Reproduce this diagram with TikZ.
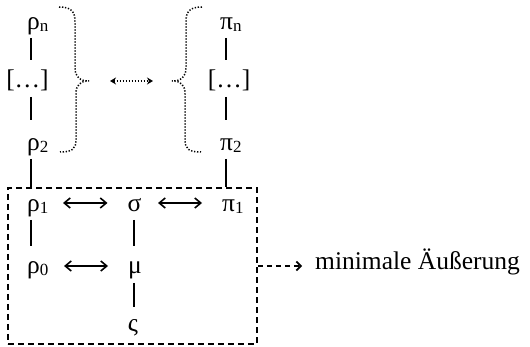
\documentclass[tikz,border=0pt]{standalone}
\usepackage{fontspec}
\setmainfont{Liberation Serif}
\usetikzlibrary{arrows.meta}
\newcommand\lowsub[1]{\raisebox{-1.5pt}{\fontsize{17}{17}\selectfont #1}}
\begin{document}
\begin{tikzpicture}[x=1pt,y=-1pt,
  lbl/.style={inner sep=0pt,font=\fontsize{25.5}{30}\selectfont},
  bar/.style={line width=2pt},
  dbl/.style={line width=1.6pt,{Straight Barb[length=6pt,width=10pt]}-{Straight Barb[length=6pt,width=10pt]}},
  dots/.style={line width=1.5pt,dash pattern=on 1.3pt off 1.7pt},
  dsh/.style={line width=1.9pt,dash pattern=on 6pt off 4pt}]
\useasboundingbox (0,0) rectangle (530,347);
\coordinate (colR) at (30.5,0);
\coordinate (colS) at (133.5,0);
\coordinate (colP) at (225.5,0);

\node[lbl,anchor=base west] (rn) at (27,30) {ρ\lowsub{n}};
\node[lbl,anchor=base] (rd) at (27.5,88) {[…]};
\node[lbl,anchor=base west] (r2) at (27,151) {ρ\lowsub{2}};
\node[lbl,anchor=base west] (r1) at (27,212) {ρ\lowsub{1}};
\node[lbl,anchor=base west] (r0) at (27,274) {ρ\lowsub{0}};
\node[lbl,anchor=base] (s) at (134.5,212) {σ};
\node[lbl,anchor=base] (mu) at (135,274) {μ};
\node[lbl,anchor=base] (fs) at (133,331) {ς};
\node[lbl,anchor=base west] (pn) at (220,30) {π\lowsub{n}};
\node[lbl,anchor=base] (pd) at (229,88) {[…]};
\node[lbl,anchor=base west] (p2) at (220,151) {π\lowsub{2}};
\node[lbl,anchor=base west] (p1) at (222,212) {π\lowsub{1}};
\node[dsh,draw,minimum width=249pt,minimum height=156pt,inner sep=0pt] (box) at (132.5,266) {};
\node[lbl,anchor=base west] (me) at (315,270) {minimale Äußerung};

% vertical bars
\draw[bar] ([yshift=-8pt]rn.base -| colR) -- ([yshift=28pt]rd.base -| colR);
\draw[bar] ([yshift=-9pt]rd.base -| colR) -- ([yshift=31pt]r2.base -| colR);
\draw[bar] ([yshift=-8pt]r2.base -| colR) -- (box.north -| colR);
\draw[bar] ([yshift=-8pt]r1.base -| colR) -- ([yshift=28pt]r0.base -| colR);
\draw[bar] ([yshift=-8pt]s.base -| colS) -- ([yshift=28pt]mu.base -| colS);
\draw[bar] ([yshift=-9pt]mu.base -| colS) -- ([yshift=24pt]fs.base -| colS);
\draw[bar] ([yshift=-8pt]pn.base -| colP) -- ([yshift=28pt]pd.base -| colP);
\draw[bar] ([yshift=-9pt]pd.base -| colP) -- ([yshift=31pt]p2.base -| colP);
\draw[bar] ([yshift=-8pt]p2.base -| colP) -- (box.north -| colP);

% horizontal arrows
\draw[dbl] ([shift={(36pt,9pt)}]r1.base west) -- ([shift={(-27pt,9pt)}]s.base);
\draw[dbl] ([shift={(23.5pt,9pt)}]s.base) -- ([shift={(-20pt,9pt)}]p1.base west);
\draw[dbl] ([shift={(37pt,8pt)}]r0.base west) -- ([shift={(-27pt,8pt)}]mu.base);

% braces
\coordinate (bl) at (89,81);
\coordinate (br) at (172,81);
\draw[dots] (59,7) .. controls (72,7) and (75,12) .. (75,22) -- (75,68)
  .. controls (75,77) and (80,81) .. (bl)
  .. controls (80,81) and (76,85) .. (76,94) -- (76,140)
  .. controls (76,149) and (72,152) .. (60,152);
\draw[dots] (202,7) .. controls (189,7) and (186,12) .. (186,22) -- (186,68)
  .. controls (186,77) and (181,81) .. (br)
  .. controls (181,81) and (185,85) .. (185,94) -- (185,140)
  .. controls (185,149) and (189,152) .. (201,152);
\draw[dots,{Stealth[length=6pt,width=7pt]}-{Stealth[length=6pt,width=7pt]},shorten <=21pt,shorten >=19pt] (bl) -- (br);

% dashed arrow to label
\draw[line width=1.7pt,dash pattern=on 5pt off 4pt,-{Straight Barb[length=4.5pt,width=9pt]},shorten >=13pt] (box.east) -- (box.east -| me.west);
\end{tikzpicture}
\end{document}
